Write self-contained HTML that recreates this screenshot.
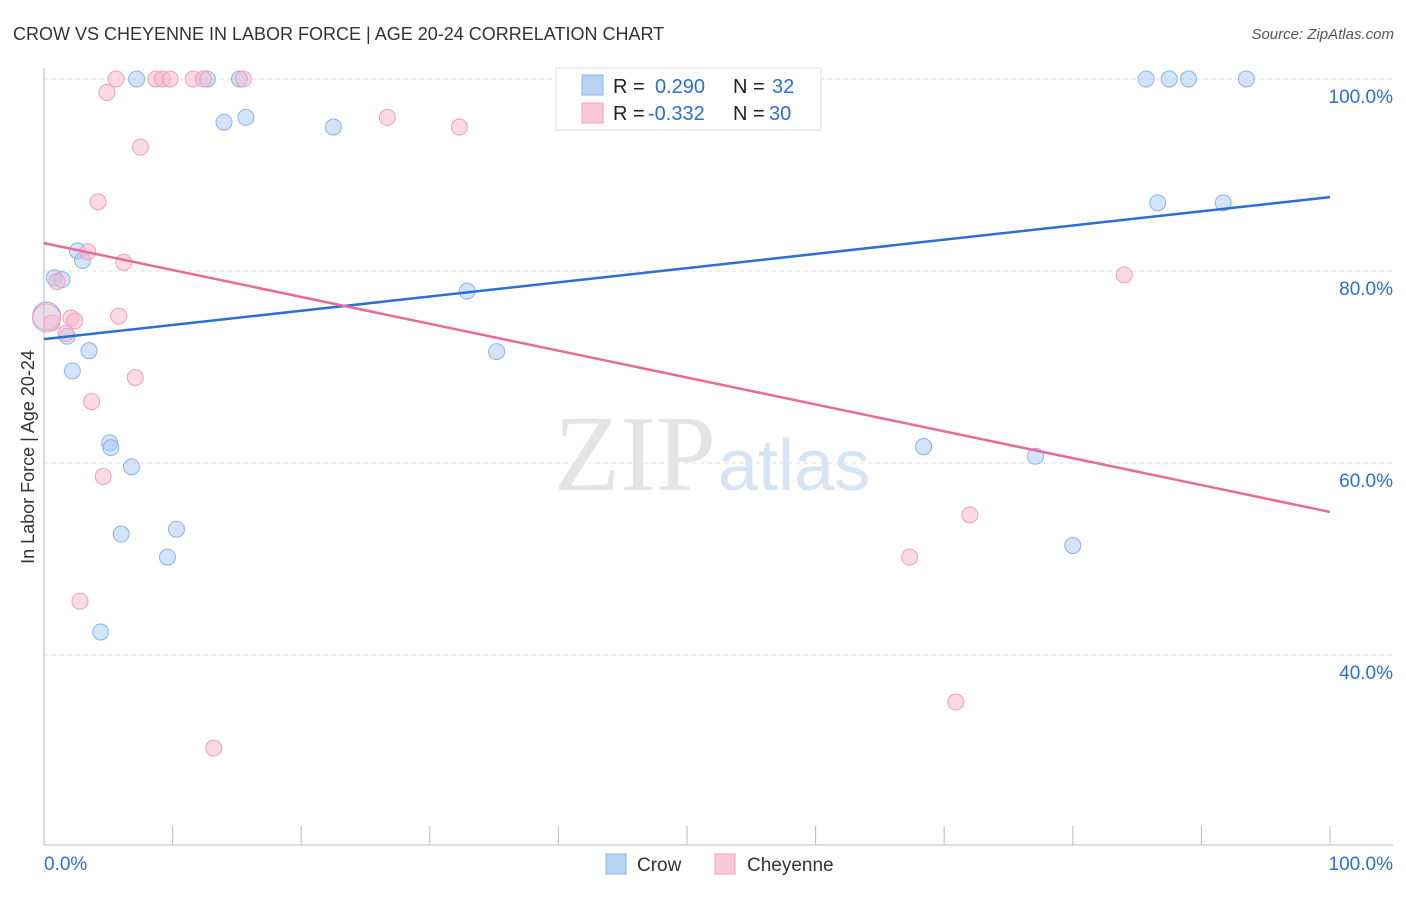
<!DOCTYPE html>
<html><head><meta charset="utf-8"><style>
body{margin:0;background:#fff;font-family:"Liberation Sans",sans-serif;}
svg text{font-family:"Liberation Sans",sans-serif;}
</style></head><body>
<svg id="chart" width="1406" height="892" xmlns="http://www.w3.org/2000/svg">
<text x="13" y="40" font-size="18" fill="#333">CROW VS CHEYENNE IN LABOR FORCE | AGE 20-24 CORRELATION CHART</text>
<text x="1394" y="39" font-size="15" fill="#555" font-style="italic" text-anchor="end">Source: ZipAtlas.com</text>
<text x="34" y="457" font-size="18" fill="#333" text-anchor="middle" transform="rotate(-90 34 457)">In Labor Force | Age 20-24</text>
<g id="grid"></g>
<g id="axes"></g>
<text x="716" y="490" font-size="108" fill="#e4e4e4" text-anchor="end" style="font-family:'Liberation Serif',serif">ZIP</text>
<text x="718" y="490" font-size="72" fill="#d6e4f5">atlas</text>
<g id="pts"></g>
<g id="lines"></g>
<g>
<rect x="556" y="68" width="265" height="62" fill="#fff" stroke="#ddd"/>
<rect x="582" y="75" width="21" height="20" fill="#b8d2f4" stroke="#8ab4e8"/>
<text x="613" y="93" font-size="20" fill="#222">R = </text><text x="655" y="93" font-size="20" fill="#2a6fd6">0.290</text>
<text x="733" y="93" font-size="20" fill="#222">N = </text><text x="772" y="93" font-size="20" fill="#2a6fd6">32</text>
<rect x="582" y="103" width="21" height="20" fill="#fbc8d8" stroke="#f0a0b8"/>
<text x="613" y="120" font-size="20" fill="#222">R = </text><text x="648" y="120" font-size="20" fill="#2a6fd6">-0.332</text>
<text x="733" y="120" font-size="20" fill="#222">N = </text><text x="769" y="120" font-size="20" fill="#2a6fd6">30</text>
</g>
<g>
<rect x="606" y="854" width="20" height="20" fill="#b8d2f4" stroke="#8ab4e8"/>
<text x="637" y="871" font-size="19" fill="#333">Crow</text>
<rect x="715" y="854" width="20" height="20" fill="#fbc8d8" stroke="#f0a0b8"/>
<text x="747" y="871" font-size="19" fill="#333">Cheyenne</text>
</g>
</svg>
<script>
const yTicks=[100,80,60,40];
const crowX=[0.8,1.4,2.6,3.0,1.8,3.5,2.2,5.1,5.2,6.8,6.0,10.3,9.6,4.4,7.2,12.7,15.2,14.0,15.7,22.5,32.9,35.2,68.4,77.1,80.0,85.7,87.5,89.0,93.5,86.6,91.7,0.2];
const crowY=[79.3,79.1,82.1,81.1,73.2,71.7,69.6,62.1,61.6,59.6,52.6,53.1,50.2,42.4,100,100,100,95.5,96.0,95.0,77.9,71.6,61.7,60.7,51.4,100,100,100,100,87.1,87.1,75.3];
const cheyX=[4.9,5.6,8.7,9.2,9.8,11.6,12.4,15.5,7.5,4.2,3.4,6.2,1.0,5.8,2.1,2.4,0.6,7.1,3.7,4.6,2.8,13.2,26.7,32.3,67.3,72.0,70.9,84.0,1.7,0.2];
const cheyY=[98.6,100,100,100,100,100,100,100,92.9,87.2,82.0,80.9,78.9,75.3,75.1,74.8,74.6,68.9,66.4,58.6,45.6,30.3,96.0,95.0,50.2,54.6,35.1,79.6,73.5,75.1];
const crowTrend=[72.9,87.7];
const cheyTrend=[82.9,54.9];
const NS="http://www.w3.org/2000/svg";
const sx=v=>44+v*12.86, sy=v=>79+(100-v)*9.6;
function mk(t,a,p){const e=document.createElementNS(NS,t);for(const k in a)e.setAttribute(k,a[k]);p.appendChild(e);return e;}
const grid=document.getElementById('grid'),axes=document.getElementById('axes');
yTicks.forEach(t=>{
 const l=mk('line',{x1:44,x2:1393,y1:sy(t),y2:sy(t),stroke:'#ddd','stroke-dasharray':'4 4'},grid);
 
 
 const tx=mk('text',{x:1393,y:sy(t)+24,'font-size':19,fill:'#2a6fd6','text-anchor':'end'},axes);
 tx.textContent=t.toFixed(1)+'%';
 
 
});
mk('line',{x1:44,x2:44,y1:68,y2:845,stroke:'#bbb'},axes);
mk('line',{x1:44,x2:1393,y1:845,y2:845,stroke:'#bbb'},axes);
for(let i=0;i<=10;i++){mk('line',{x1:sx(i*10),x2:sx(i*10),y1:826,y2:845,stroke:'#bbb'},axes);}
const xl=mk('text',{x:44,y:870,'font-size':19,fill:'#2a6fd6'},axes);xl.textContent='0.0%';


const xr=mk('text',{x:1393,y:870,'font-size':19,fill:'#2a6fd6','text-anchor':'end'},axes);xr.textContent='100.0%';


const pts=document.getElementById('pts');
function draw(X,Y,fill,stroke,name){X.forEach((x,i)=>{const big=(i==X.length-1);const r=big?14:8;
 const c=mk('circle',{cx:sx(x),cy:sy(Y[i]),r:r,fill:fill,stroke:stroke,'stroke-width':1,'fill-opacity':big?0.6:1},pts);
 
 });}
draw(crowX,crowY,'rgba(168,200,242,0.5)','#8ab4e8','crow-point');
draw(cheyX,cheyY,'rgba(248,182,204,0.5)','#f0a0b8','cheyenne-point');
const lines=document.getElementById('lines');
const l1=mk('line',{x1:sx(0),x2:sx(100),y1:sy(crowTrend[0]),y2:sy(crowTrend[1]),stroke:'#2a6fd6','stroke-width':2.5},lines);


const l2=mk('line',{x1:sx(0),x2:sx(100),y1:sy(cheyTrend[0]),y2:sy(cheyTrend[1]),stroke:'#e8699a','stroke-width':2.5},lines);


</script>
</body></html>
